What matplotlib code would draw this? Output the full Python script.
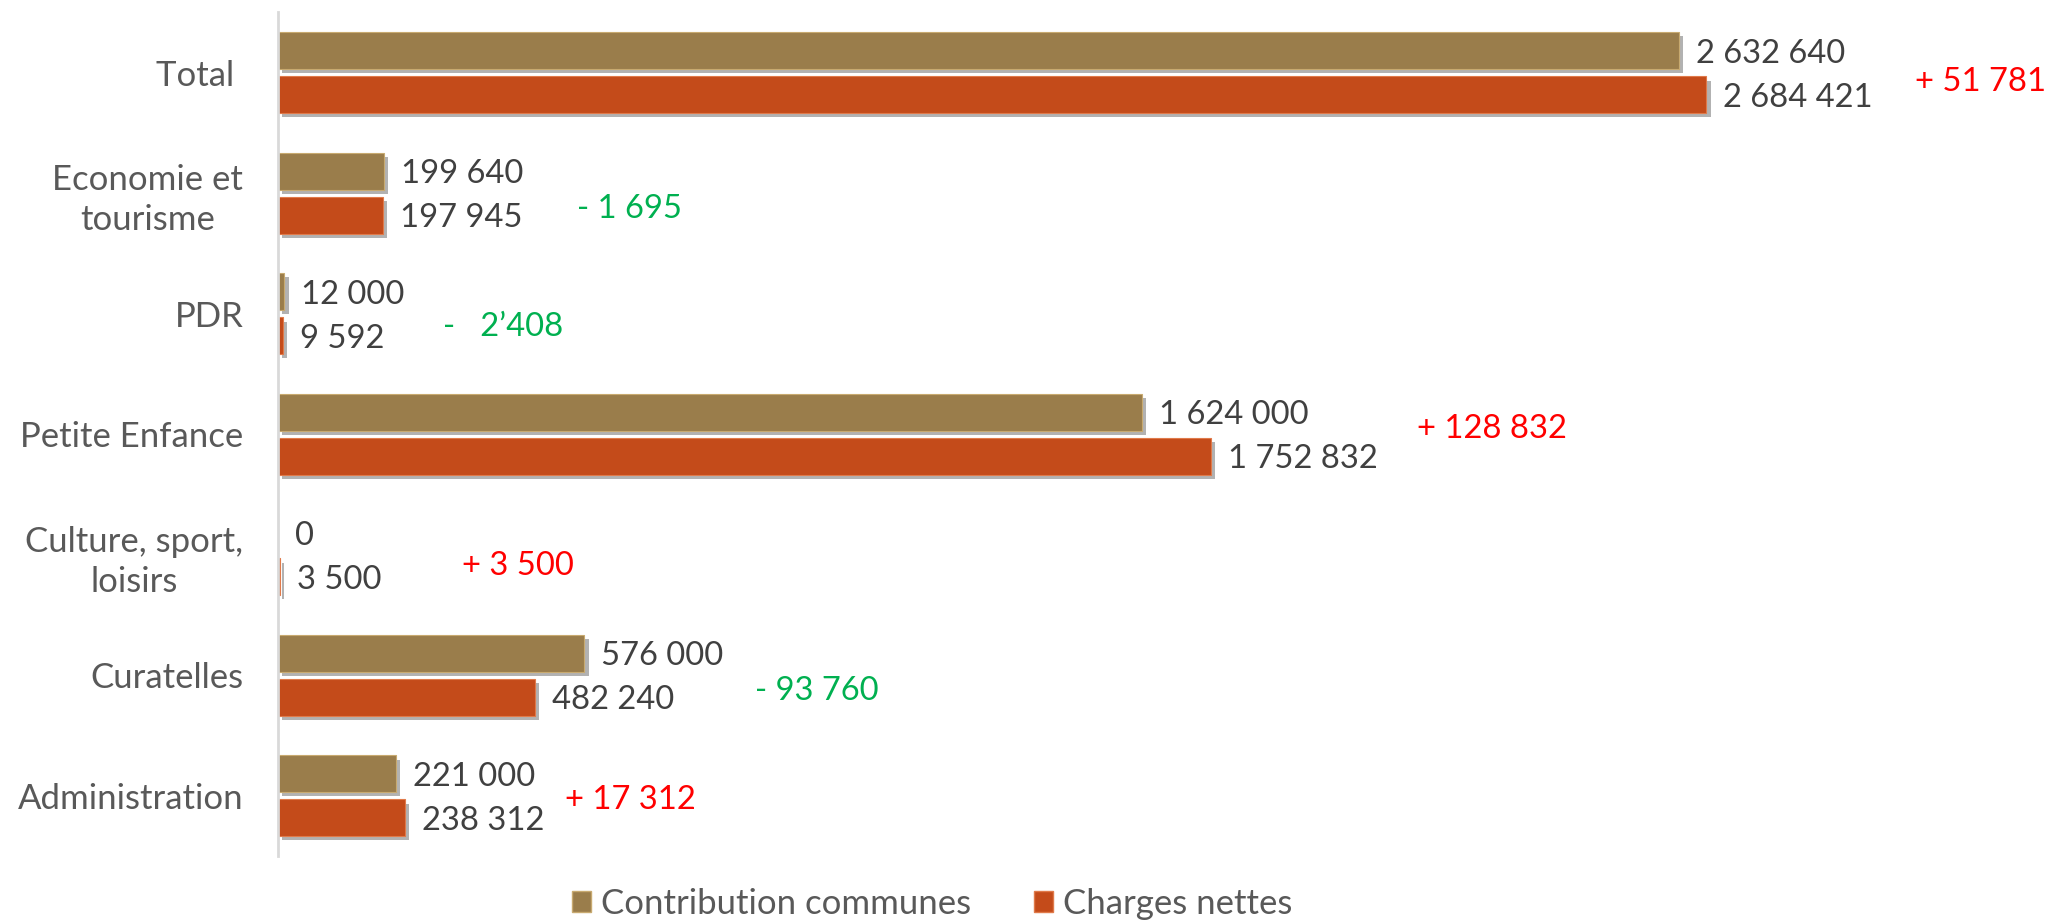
import matplotlib
matplotlib.use("Agg")
import matplotlib.pyplot as plt
import matplotlib.patheffects as pe
from matplotlib.patches import Patch
import numpy as np

# ---- data ----
categories = ["Total ", "Economie et\ntourisme", "PDR", "Petite Enfance",
              "Culture, sport,\nloisirs", "Curatelles", "Administration"]
contribution = [2632640, 199640, 12000, 1624000, 0, 576000, 221000]
charges = [2684421, 197945, 9592, 1752832, 3500, 482240, 238312]
diff_labels = ["+ 51 781", "- 1 695", "-   2\u2019408", "+ 128 832", "+ 3 500", "- 93 760", "+ 17 312"]
diff_positive = [True, False, False, True, True, False, True]
series_names = ["Contribution communes", "Charges nettes"]

# ---- style ----
col_contrib = "#9A7D4B"
col_charges = "#C44B1A"
red = "#FF0000"
green = "#00B050"
txt_dark = "#404040"
txt_cat = "#595959"
FS_VAL = 23.6
FS_CAT = 25
# per-label offsets (pixels) for difference annotations
diff_dx = [209, 193, 159, 206, 182, 171, 160]
diff_dy = [-9, -16, -13, 5, -11, -16, -4]

plt.rcParams['font.family'] = ['Lato', 'DejaVu Sans']

fig = plt.figure(figsize=(20.49, 9.22), dpi=100)
ax = fig.add_axes([278 / 2049, 0.0715, 0.831, 0.915])

y = np.arange(len(categories))
h = 0.305
off = 0.183
shadow = [pe.SimplePatchShadow(offset=(3, -3), shadow_rgbFace="#000000", alpha=0.3), pe.Normal()]

b1 = ax.barh(y - off, contribution, height=h, color=col_contrib,
             edgecolor="#C8AA70", linewidth=0.8)
b2 = ax.barh(y + off, charges, height=h, color=col_charges,
             edgecolor="#E07A4A", linewidth=0.8)
for bars in (b1, b2):
    for p in bars:
        if p.get_width() > 0:
            p.set_path_effects(shadow)

def fmt(v):
    return f"{v:,}".replace(",", " ")

for i in range(len(categories)):
    ax.annotate(fmt(contribution[i]), (contribution[i], y[i] - off), xytext=(17, -3),
                textcoords="offset pixels", va="center", ha="left", fontsize=FS_VAL, color=txt_dark)
    ax.annotate(fmt(charges[i]), (charges[i], y[i] + off), xytext=(17, -3),
                textcoords="offset pixels", va="center", ha="left", fontsize=FS_VAL, color=txt_dark)
    xm = max(contribution[i], charges[i])
    ax.annotate(diff_labels[i], (xm, y[i]), xytext=(diff_dx[i], diff_dy[i]),
                textcoords="offset pixels", va="center", ha="left", fontsize=FS_VAL,
                color=red if diff_positive[i] else green)

ax.set_ylim(len(categories) - 0.5, -0.5)
ax.set_xlim(0, 3.2e6)
ax.set_yticks(y)
ax.set_yticklabels(categories, fontsize=FS_CAT, color=txt_cat, multialignment="center", linespacing=1.3)
ax.tick_params(axis="y", length=0, pad=25)
ax.tick_params(axis="x", bottom=False, labelbottom=False)
for s in ["top", "right", "bottom"]:
    ax.spines[s].set_visible(False)
ax.spines["left"].set_color("#D9D9D9")
ax.spines["left"].set_linewidth(2)

handles = [Patch(facecolor=col_contrib, edgecolor="#C8AA70"),
           Patch(facecolor=col_charges, edgecolor="#E07A4A")]
leg = fig.legend(handles=handles, labels=series_names, loc="center", bbox_to_anchor=(0.455, 0.02),
                 ncol=2, frameon=False, fontsize=FS_CAT, handlelength=0.55, handleheight=0.55,
                 handletextpad=0.3, columnspacing=1.8, labelcolor=txt_cat)

fig.savefig("out.png", dpi=100)
